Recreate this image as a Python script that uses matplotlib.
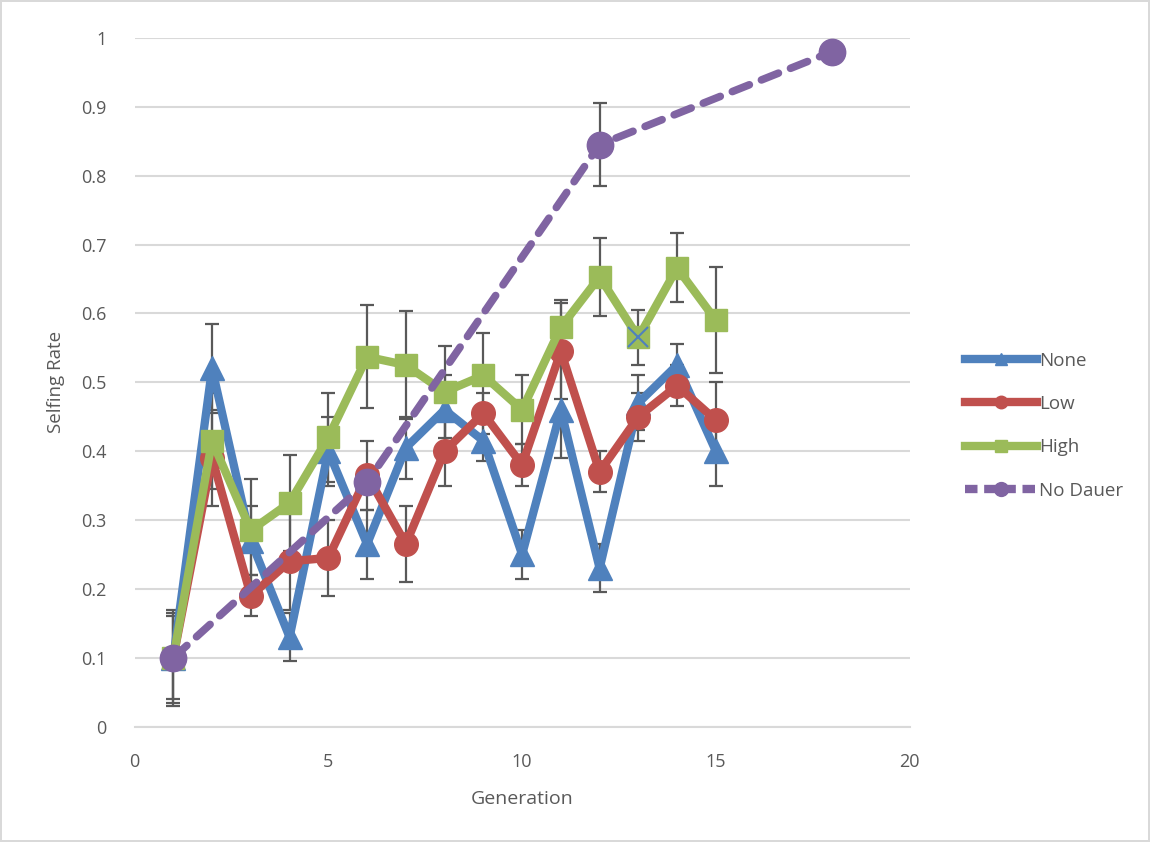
import numpy as np
import matplotlib
matplotlib.use("Agg")
import matplotlib.pyplot as plt
from matplotlib.lines import Line2D

gen = np.arange(1, 16)
none_y = [0.10, 0.52, 0.27, 0.13, 0.40, 0.265, 0.405, 0.46, 0.415, 0.25, 0.46, 0.23, 0.47, 0.525, 0.40]
none_err = [0.07, 0.065, 0.05, 0.035, 0.05, 0.05, 0.045, 0.05, 0.03, 0.035, 0.07, 0.035, 0.04, 0.03, 0.05]
low_y = [0.10, 0.39, 0.19, 0.24, 0.245, 0.365, 0.265, 0.40, 0.455, 0.38, 0.545, 0.37, 0.45, 0.495, 0.445]
low_err = [0.065, 0.07, 0.03, 0.07, 0.055, 0.05, 0.055, 0.05, 0.03, 0.03, 0.07, 0.03, 0.035, 0.03, 0.055]
high_y = [0.10, 0.415, 0.285, 0.325, 0.42, 0.537, 0.525, 0.486, 0.51, 0.46, 0.58, 0.653, 0.565, 0.666, 0.59]
high_err = [0.06, 0.07, 0.075, 0.07, 0.065, 0.075, 0.078, 0.067, 0.062, 0.05, 0.04, 0.057, 0.04, 0.05, 0.077]
nd_x = [1, 6, 12, 18]
nd_y = [0.10, 0.355, 0.845, 0.98]
nd_err = [0.0, 0.0, 0.06, 0.0]

blue = "#4f81bd"
red = "#c0504d"
green = "#9bbb59"
purple = "#8064a2"
grey = "#595959"

plt.rcParams['font.family'] = ['Open Sans', 'DejaVu Sans']
fig = plt.figure(figsize=(11.5, 8.42), dpi=100)
fig.patch.set_edgecolor("#d9d9d9")
fig.patch.set_linewidth(1.5)
ax = fig.add_axes([0.117, 0.137, 0.674, 0.818])

ekw = dict(ecolor=grey, elinewidth=1.6, capsize=5, capthick=1.6, fmt='none', zorder=2)
ax.errorbar(gen, none_y, yerr=none_err, **ekw)
ax.errorbar(gen, low_y, yerr=low_err, **ekw)
ax.errorbar(gen, high_y, yerr=high_err, **ekw)
ax.errorbar(nd_x, nd_y, yerr=nd_err, **ekw)

ax.plot(gen, none_y, color=blue, lw=6, marker='^', ms=17, zorder=3, solid_joinstyle='round')
ax.plot(gen, low_y, color=red, lw=6, marker='o', ms=17, zorder=4, solid_joinstyle='round')
ax.plot(gen, high_y, color=green, lw=6, marker='s', ms=16, zorder=5, solid_joinstyle='round')
ax.plot(gen[12], high_y[12], marker='x', color=blue, ms=15, mew=1.5, ls='none', zorder=6)
ax.plot(nd_x, nd_y, color=purple, lw=5.5, ls=(0, (2.4, 1.7)), marker='o', ms=19,
        dash_capstyle='round', zorder=7)

ax.set_xlim(0, 20)
ax.set_ylim(0, 1)
ax.set_xticks([0, 5, 10, 15, 20])
ax.set_yticks(np.arange(0, 1.01, 0.1))
ax.set_yticklabels(['0', '0.1', '0.2', '0.3', '0.4', '0.5', '0.6', '0.7', '0.8', '0.9', '1'])
ax.grid(axis='y', color='#d9d9d9', lw=1.5)
ax.set_axisbelow(True)
for s in ['top', 'right', 'left']:
    ax.spines[s].set_visible(False)
ax.spines['bottom'].set_color('#d9d9d9')
ax.spines['bottom'].set_linewidth(1.5)
ax.tick_params(length=0, labelsize=13, labelcolor=grey)
ax.tick_params(axis='x', pad=19)
ax.tick_params(axis='y', pad=20)
ax.set_xlabel('Generation', fontsize=14, color=grey, labelpad=14)
ax.set_ylabel('Selfing Rate', fontsize=13.5, color=grey, labelpad=12)

handles = [
    Line2D([], [], color=blue, lw=6, marker='^', ms=9),
    Line2D([], [], color=red, lw=6, marker='o', ms=9),
    Line2D([], [], color=green, lw=6, marker='s', ms=9),
    Line2D([], [], color=purple, lw=6, ls=(0, (1.5, 0.8)), marker='o', ms=10),
]
ax.legend(handles, ['None', 'Low', 'High', 'No Dauer'], loc='center left',
          bbox_to_anchor=(1.05, 0.437), frameon=False, fontsize=13.5, labelcolor=grey,
          handlelength=3.8, handletextpad=0.15, labelspacing=1.35)

fig.savefig('out.png', dpi=100, edgecolor=fig.get_edgecolor())
